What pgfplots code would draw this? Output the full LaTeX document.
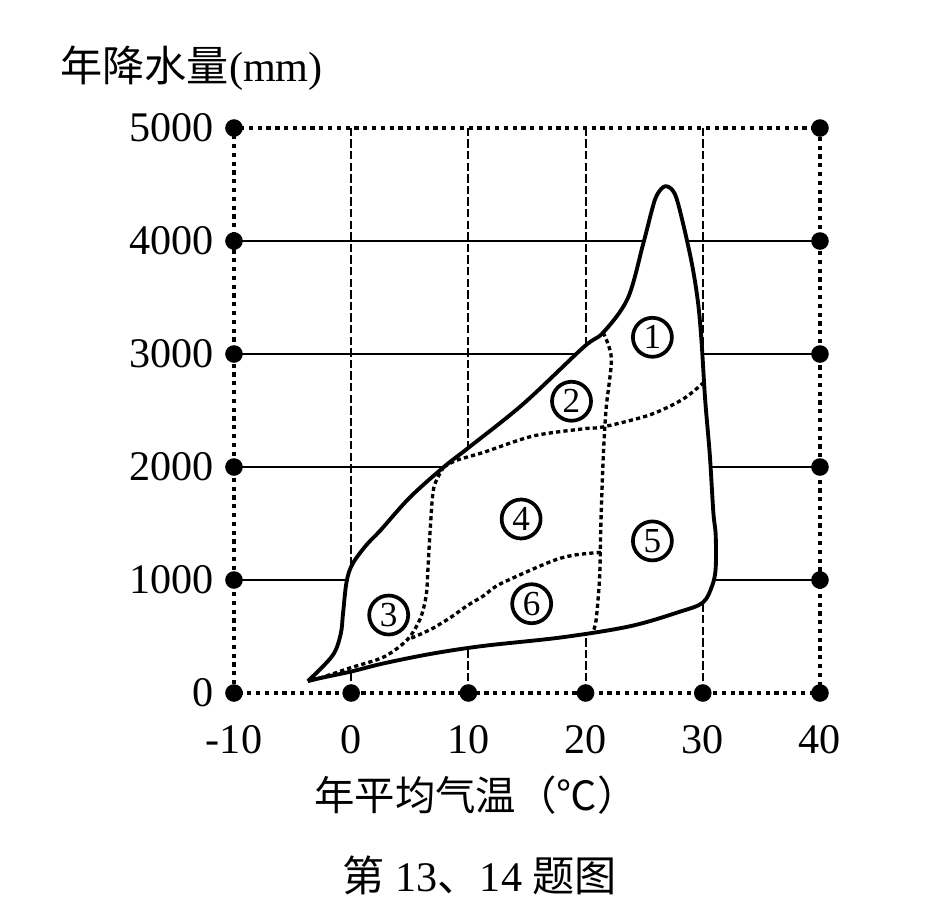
\documentclass[border=0pt]{standalone}
\usepackage{pgfplots}
\pgfplotsset{compat=1.18}
\usepackage{fontspec}
\setmainfont{Liberation Serif}
\newfontfamily\cjk{Noto Sans CJK SC}

\begin{document}
\begin{tikzpicture}
\useasboundingbox (-2.34,-2.18) rectangle (7.00,6.93);
\begin{axis}[
  at={(0,0)}, anchor=south west,
  width=5.86cm, height=5.65cm, scale only axis,
  xmin=-10, xmax=40, ymin=0, ymax=5000,
  xtick={-10,0,10,20,30,40}, xticklabels={-10,0,10,20,30,40},
  ytick={0,1000,2000,3000,4000,5000}, yticklabels={0,1000,2000,3000,4000,5000},
  extra x ticks={0,10,20,30}, extra x tick labels={},
  extra y ticks={1000,2000,3000,4000}, extra y tick labels={},
  extra x tick style={xmajorgrids=true},
  extra y tick style={ymajorgrids=true},
  major tick length=0pt,
  x grid style={black, line width=0.6pt, dash pattern=on 2.4pt off 0.9pt},
  y grid style={black, line width=0.6pt},
  axis line style={black, line width=1.2pt, dash pattern=on 1.2pt off 1.3pt},
  tick label style={font=\fontsize{12}{14}\selectfont},
  xticklabel style={yshift=-2.0mm},
  yticklabel style={xshift=-0.8mm},
  clip=false,
]
% outer region, filled white so the grid is hidden inside
\addplot[fill=white, draw=black, line width=1.1pt, line join=round, smooth, tension=0.55] coordinates {
  (-3.7,105) (-2.5,135) (0,190) (2.8,263) (7,350) (11.3,417) (18,493)
  (23.8,591) (28,718) (30,800) (30.8,950) (31.1,1105) (31.1,1400)
  (30.9,1600) (30.6,2105) (30.2,2600) (29.9,3100) (29.6,3450) (29.1,3783)
  (28.3,4162) (27.6,4420) (26.8,4485) (26.1,4410) (25.7,4290) (24.9,3969)
  (23.6,3493) (21.5,3190) (19.8,3058) (14.7,2560) (10,2170) (7.9,2000)
  (5,1730) (2.5,1440) (1.3,1310) (0.1,1140) (-0.4,980) (-0.7,700)
  (-0.9,520) (-1.6,330) (-3.7,105)
};
% dividing lines
\addplot[black, line width=0.95pt, dash pattern=on 1.2pt off 0.9pt, smooth] coordinates {
  (7.9,2000) (7.05,1817) (6.75,1460) (6.55,1100) (6.4,864) (5.9,660)
  (4.8,473) (2.8,320) (0,225) (-2.6,135) (-3.6,110)
};
\addplot[black, line width=0.95pt, dash pattern=on 1.2pt off 0.9pt, smooth] coordinates {
  (7.9,2000) (9,2060) (11.3,2130) (15.5,2274) (19.8,2338) (21.5,2355)
  (25.5,2462) (28.3,2600) (30.1,2750)
};
\addplot[black, line width=0.95pt, dash pattern=on 1.2pt off 0.9pt, smooth] coordinates {
  (21.5,3190) (22.2,2962) (21.75,2516) (21.5,2071) (21.3,1476) (21.2,1032)
  (20.9,648) (20.6,530)
};
\addplot[black, line width=0.95pt, dash pattern=on 1.2pt off 0.9pt, smooth] coordinates {
  (21.3,1245) (19,1220) (17,1162) (12.7,964) (11.3,861) (9.9,773)
  (8.5,670) (7,575) (5.6,506) (4.8,473)
};
% dots on the frame
\addplot[only marks, mark=*, mark size=2.3pt, black] coordinates {
  (-10,0) (-10,1000) (-10,2000) (-10,3000) (-10,4000) (-10,5000)
  (0,0) (10,0) (20,0) (30,0) (40,0)
  (40,1000) (40,2000) (40,3000) (40,4000) (40,5000)
};
\tikzset{circ/.style={circle, draw, line width=1.05pt, inner sep=0pt,
  minimum size=3.9mm, fill=white, font=\fontsize{10}{10}\selectfont}}
\node[circ] at (axis cs:25.7,3148) {1};
\node[circ] at (axis cs:18.8,2582) {2};
\node[circ] at (axis cs:3.2,690) {3};
\node[circ] at (axis cs:14.5,1540) {4};
\node[circ] at (axis cs:25.7,1346) {5};
\node[circ] at (axis cs:15.4,790) {6};
\end{axis}
\node[anchor=west, font=\fontsize{12}{14}\selectfont] at (-1.86,6.25) {{\cjk 年降水量}(mm)};
\node[font=\fontsize{11.5}{13}\selectfont] at (2.42,-1.02) {\cjk 年平均气温（℃）};
\node[font=\fontsize{12}{14}\selectfont] at (2.46,-1.82) {{\cjk 第} 13{\cjk 、}14 {\cjk 题图}};
\end{tikzpicture}
\end{document}
